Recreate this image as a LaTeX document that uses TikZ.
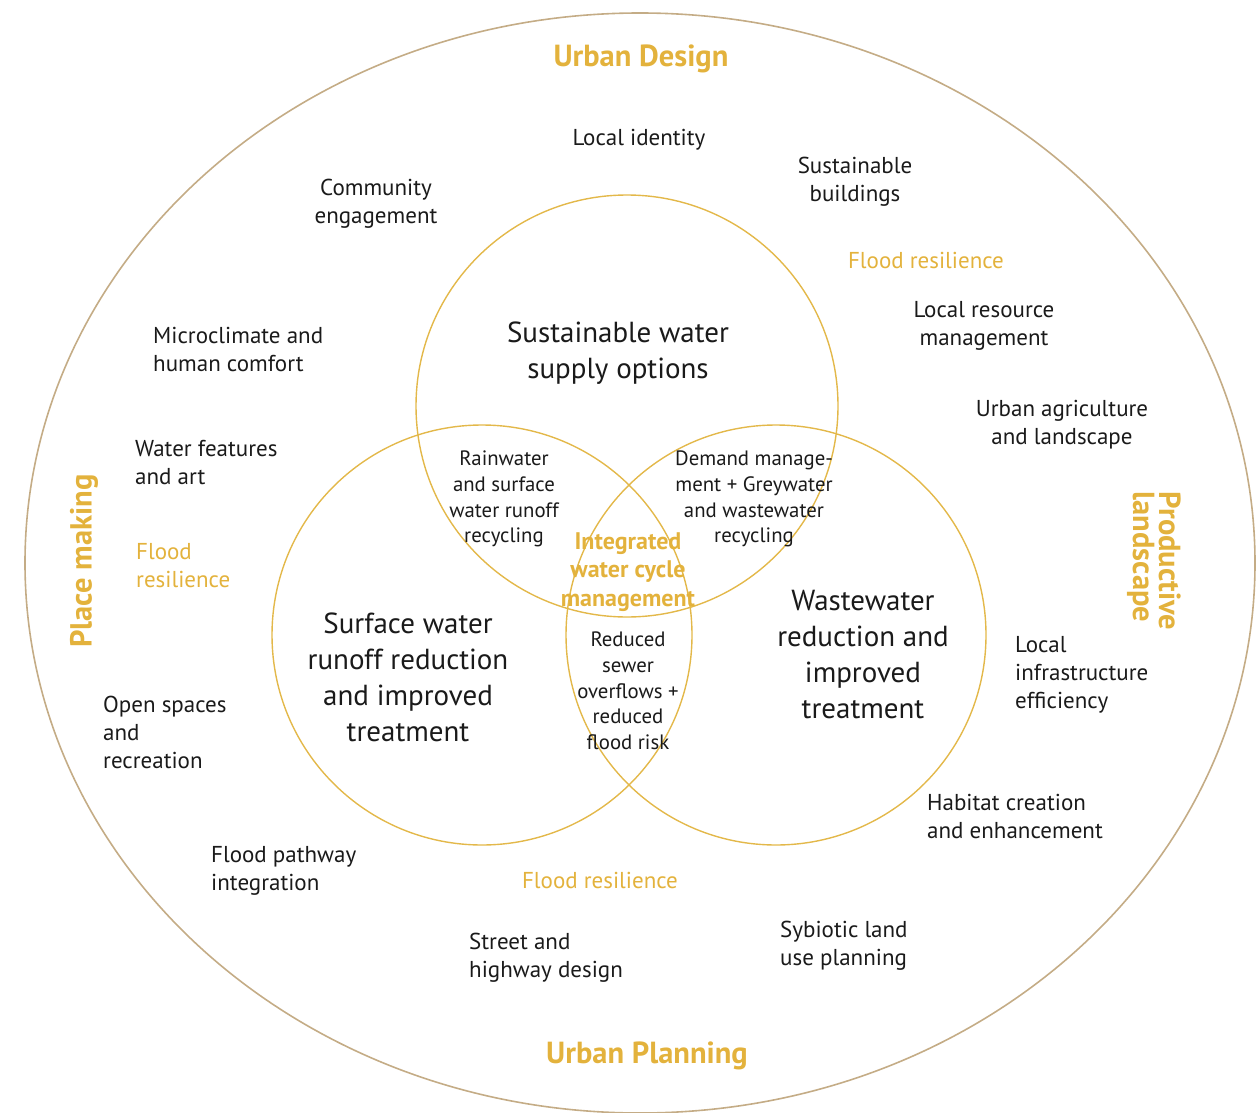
\documentclass[tikz,border=0pt]{standalone}
\usepackage{fontspec}
\setmainfont{PT Sans}
\definecolor{gold}{HTML}{E3B23C}
\definecolor{ring}{HTML}{E3B84A}
\definecolor{tan}{HTML}{C4AC86}
\definecolor{ink}{HTML}{1A1A1A}
\begin{document}
\begin{tikzpicture}[x=1pt,y=-1pt,
  txt/.style={text=ink,font=\fontsize{23}{28}\selectfont,align=center,inner sep=0pt},
  txtl/.style={txt,align=left,anchor=west},
  big/.style={text=ink,font=\fontsize{29}{36}\selectfont,align=center,inner sep=0pt},
  small/.style={text=ink,font=\fontsize{20.8}{25.7}\selectfont,align=center,inner sep=0pt},
  head/.style={text=gold,font=\bfseries\fontsize{30.5}{30}\selectfont,align=center,inner sep=0pt},
  gtxt/.style={text=gold,font=\fontsize{23}{28}\selectfont,align=center,inner sep=0pt},
  circ/.style={draw=ring,line width=1.4pt}]
\useasboundingbox (0,0) rectangle (1256,1113);
\draw[tan,line width=1.6pt] (640,563) ellipse [x radius=615, y radius=550];
\node[circ,circle,minimum size=422pt,inner sep=0pt] (top) at (627,406) {};
\node[circ,circle,minimum size=420pt,inner sep=0pt] (lft) at (482,635) {};
\node[circ,circle,minimum size=420pt,inner sep=0pt] (rgt) at (776,635) {};

\node[head] (ud) at (641,59) {Urban Design};
\node[head] (up) at (647,1056) {Urban Planning};
\node[head,rotate=90] (pm) at (84,561) {Place making};
\node[head,rotate=-90,align=left,font=\bfseries\fontsize{30.5}{26}\selectfont] (pl) at (1154,561) {Productive\\landscape};

\node[txt] (li) at (639,140) {Local identity};
\node[txt] (sb) at (855,182) {Sustainable\\buildings};
\node[txt] (ce) at (376,204) {Community\\engagement};
\node[gtxt] (fr1) at (926,260) {Flood resilience};
\node[txt] (lrm) at (984,326) {Local resource\\management};
\node[txtl] (mc) at (153,349) {Microclimate and\\human comfort};
\node[txt] (ua) at (1062,425) {Urban agriculture\\and landscape};
\node[txtl] (wf) at (135,463) {Water features\\and art};
\node[gtxt,align=left,anchor=west] (fr2) at (136,566) {Flood\\resilience};
\node[txtl] (lie) at (1015,675) {Local\\infrastructure\\efficiency};
\node[txtl] (os) at (103,732) {Open spaces\\and\\recreation};
\node[txtl] (hc) at (927,816) {Habitat creation\\and enhancement};
\node[txtl] (fp) at (211,871) {Flood pathway\\integration};
\node[gtxt] (fr3) at (600,880) {Flood resilience};
\node[txtl] (sh) at (469,958) {Street and\\highway design};
\node[txtl] (sl) at (780,946) {Sybiotic land\\use planning};

\node[big] (sws) at (618,353) {Sustainable water\\supply options};
\node[big] (swr) at (408,677) {Surface water\\runoff reduction\\and improved\\treatment};
\node[big] (wwr) at (863,655) {Wastewater\\reduction and\\improved\\treatment};

\node[small] (rw) at (504,499) {Rainwater\\and surface\\water runoff\\recycling};
\node[small] (dm) at (754,499) {Demand manage-\\ment + Greywater\\and wastewater\\recycling};
\node[small] (rs) at (628,691) {Reduced\\sewer\\overflows +\\reduced\\flood risk};
\node[text=gold,font=\bfseries\fontsize{24}{28.5}\selectfont,align=center,inner sep=0pt] (iwc) at (628,572) {Integrated\\water cycle\\management};
\end{tikzpicture}
\end{document}
